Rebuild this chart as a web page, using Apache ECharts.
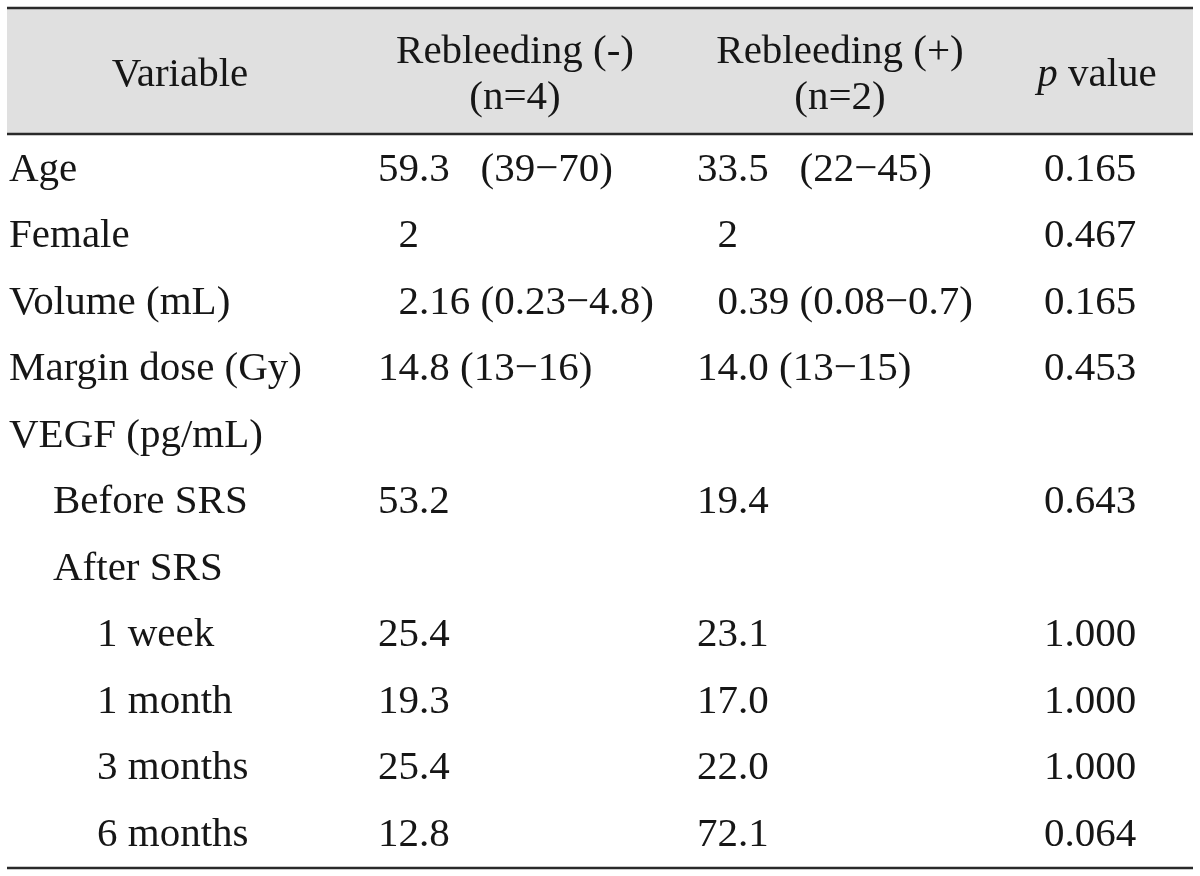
<!DOCTYPE html>
<html>
<head>
<meta charset="utf-8">
<script src="https://cdn.jsdelivr.net/npm/echarts@6/dist/echarts.min.js"></script>
<style>html,body{margin:0;padding:0;background:#fff}#c{width:1200px;height:876px}</style>
</head>
<body>
<div id="c"></div>
<script>
// ---- data ----
const variables = ['Age','Female','Volume (mL)','Margin dose (Gy)','VEGF (pg/mL)','Before SRS','After SRS','1 week','1 month','3 months','6 months'];
const indentLevels = [0,0,0,0,0,1,1,2,2,2,2];
const rebleedNeg = ['59.3   (39\u221270)','  2','  2.16 (0.23\u22124.8)','14.8 (13\u221216)','','53.2','','25.4','19.3','25.4','12.8'];
const rebleedPos = ['33.5   (22\u221245)','  2','  0.39 (0.08\u22120.7)','14.0 (13\u221215)','','19.4','','23.1','17.0','22.0','72.1'];
const pValues = ['0.165','0.467','0.165','0.453','','0.643','','1.000','1.000','1.000','0.064'];
const headerLine1 = ['Variable','Rebleeding (-)','Rebleeding (+)','p value'];
const headerLine2 = ['','(n=4)','(n=2)',''];

// ---- layout ----
const FONT_FAMILY = "'Liberation Serif','DejaVu Serif',serif";
const FS = 41;
const COLOR = '#161616';
const colX = [9, 378, 697, 1090];
const INDENT = 44;

const cells = [];
variables.forEach((v, i) => {
  cells.push({value: [colX[0] + indentLevels[i] * INDENT, i], text: v, align: 'left'});
  if (rebleedNeg[i]) cells.push({value: [colX[1], i], text: rebleedNeg[i], align: 'left'});
  if (rebleedPos[i]) cells.push({value: [colX[2], i], text: rebleedPos[i], align: 'left'});
  if (pValues[i]) cells.push({value: [colX[3], i], text: pValues[i], align: 'center'});
});

const chart = echarts.init(document.getElementById('c'), null, {renderer: 'canvas'});
const font = FS + 'px ' + FONT_FAMILY;

const graphics = [
  {type: 'rect', shape: {x: 7, y: 9, width: 1186, height: 124}, style: {fill: '#e0e0e0'}, z: 0},
  {type: 'line', shape: {x1: 7, y1: 8, x2: 1193, y2: 8}, style: {stroke: '#2a2a2a', lineWidth: 2.5}},
  {type: 'line', shape: {x1: 7, y1: 134, x2: 1193, y2: 134}, style: {stroke: '#2a2a2a', lineWidth: 2.5}},
  {type: 'line', shape: {x1: 7, y1: 868, x2: 1193, y2: 868}, style: {stroke: '#2a2a2a', lineWidth: 2.5}},
  {type: 'text', x: 180, y: 75, style: {text: headerLine1[0], font: font, fill: COLOR, align: 'center', verticalAlign: 'middle'}},
  {type: 'text', x: 515, y: 52, style: {text: headerLine1[1], font: font, fill: COLOR, align: 'center', verticalAlign: 'middle'}},
  {type: 'text', x: 515, y: 98, style: {text: headerLine2[1], font: font, fill: COLOR, align: 'center', verticalAlign: 'middle'}},
  {type: 'text', x: 840, y: 52, style: {text: headerLine1[2], font: font, fill: COLOR, align: 'center', verticalAlign: 'middle'}},
  {type: 'text', x: 840, y: 98, style: {text: headerLine2[2], font: font, fill: COLOR, align: 'center', verticalAlign: 'middle'}},
  {type: 'text', x: 1097, y: 75, style: {
    text: '{i|p}{n|' + headerLine1[3].slice(1) + '}',
    align: 'center', verticalAlign: 'middle',
    rich: {
      i: {font: 'italic ' + font, fill: COLOR},
      n: {font: font, fill: COLOR}
    }
  }}
];

chart.setOption({
  animation: false,
  grid: {left: 0, right: 0, top: 137, bottom: 8},
  xAxis: {type: 'value', min: 0, max: 1200, show: false},
  yAxis: {type: 'category', data: variables.map((_, i) => i), inverse: true, show: false},
  graphic: graphics,
  series: [{
    type: 'custom',
    coordinateSystem: 'cartesian2d',
    data: cells.map(c => c.value),
    renderItem: function (params, api) {
      const c = cells[params.dataIndex];
      const p = api.coord([api.value(0), api.value(1)]);
      return {
        type: 'text',
        x: p[0], y: p[1],
        style: {text: c.text, font: font, fill: COLOR, align: c.align, verticalAlign: 'middle'}
      };
    }
  }]
});
</script>
</body>
</html>
